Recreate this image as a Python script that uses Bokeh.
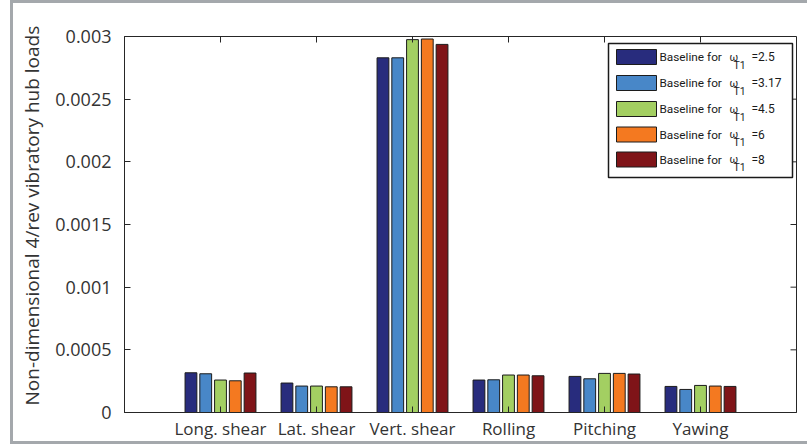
import numpy as np
from bokeh.plotting import figure
from bokeh.models import FixedTicker, Range1d, Title, ColumnDataSource
from bokeh.core.properties import value
from bokeh.embed import file_html
from bokeh.resources import INLINE

# ---- data -------------------------------------------------------------
categories = ["Long. shear", "Lat. shear", "Vert. shear", "Rolling", "Pitching", "Yawing"]
omega_labels = ["2.5", "3.17", "4.5", "6", "8"]
load_w25 = [0.000317, 0.000235, 0.002830, 0.000259, 0.000288, 0.000208]
load_w317 = [0.000309, 0.000211, 0.002830, 0.000261, 0.000269, 0.000184]
load_w45 = [0.000259, 0.000211, 0.002975, 0.000299, 0.000312, 0.000216]
load_w6 = [0.000253, 0.000205, 0.002980, 0.000299, 0.000312, 0.000211]
load_w8 = [0.000315, 0.000205, 0.002937, 0.000293, 0.000307, 0.000208]
y_ticks = [0, 0.0005, 0.001, 0.0015, 0.002, 0.0025, 0.003]
y_tick_labels = ["0", "0.0005", "0.001", "0.0015", "0.002", "0.0025", "0.003"]

series = [load_w25, load_w317, load_w45, load_w6, load_w8]
colors = ["#282c7d", "#4887c8", "#a3cf62", "#f47920", "#7f1418"]

# ---- layout -----------------------------------------------------------
W, H = 807, 446
X_MIN, X_MAX = 0, len(categories) + 1
Y_MIN, Y_MAX = 0, 0.003
# frame position inside the canvas (pixels)
FRAME_L, FRAME_R, FRAME_T, FRAME_B = 124, 796, 36, 412
TICK_PX = 6

FONT = "Open Sans"
INK = "#262626"
RULE = "#a4a8ac"

p = figure(
    width=W, height=H,
    x_range=Range1d(X_MIN, X_MAX), y_range=Range1d(Y_MIN, Y_MAX),
    output_backend="svg", toolbar_location=None,
    min_border_left=FRAME_L, min_border_right=W - FRAME_R,
    min_border_top=FRAME_T, min_border_bottom=H - FRAME_B,
)
# thin grey page rules (left, top, bottom) painted behind a transparent border area
p.border_fill_alpha = 0
p.styles = {
    "background": (
        f"linear-gradient({RULE},{RULE}) 10px 0px / 3px 444px no-repeat, "
        f"linear-gradient({RULE},{RULE}) 10px 0px / 797px 3px no-repeat, "
        f"linear-gradient({RULE},{RULE}) 10px 441px / 797px 3px no-repeat, "
        "white"
    )
}
p.grid.visible = False
p.outline_line_color = INK
p.outline_line_width = 1
p.background_fill_color = "white"


def fx(px):
    return X_MIN + (px - FRAME_L) / (FRAME_R - FRAME_L) * (X_MAX - X_MIN)


def fy(py):
    return Y_MIN + (FRAME_B - py) / (FRAME_B - FRAME_T) * (Y_MAX - Y_MIN)


dx_tick = fx(FRAME_L + TICK_PX) - fx(FRAME_L)
dy_tick = fy(FRAME_B - TICK_PX) - fy(FRAME_B)

# ---- grouped bars -----------------------------------------------------
centers = np.arange(1, len(categories) + 1, dtype=float)
n = len(series)
group_w = min(0.8, n / (n + 1.5))
pitch = group_w / n
bar_w = pitch * 0.8
for j, (vals, col) in enumerate(zip(series, colors)):
    src = ColumnDataSource(dict(x=centers + (j - (n - 1) / 2) * pitch, top=vals))
    p.vbar(x="x", top="top", width=bar_w, bottom=0, source=src,
           fill_color=col, line_color="#1c1c1c", line_width=1)

# ---- axes -------------------------------------------------------------
cat_ticks = [int(c) for c in centers]
xa = p.xaxis[0]
xa.ticker = FixedTicker(ticks=cat_ticks)
xa.major_label_overrides = {t: c for t, c in zip(cat_ticks, categories)}
ya = p.yaxis[0]
ya.ticker = FixedTicker(ticks=y_ticks)
ya.major_label_overrides = {t: s for t, s in zip(y_ticks, y_tick_labels)}

for ax in (xa, ya):
    ax.major_tick_in = TICK_PX
    ax.major_tick_out = 0
    ax.minor_tick_line_color = None
    ax.axis_line_color = INK
    ax.major_tick_line_color = INK
    ax.major_label_text_font = FONT
    ax.major_label_text_color = "#333333"
xa.major_label_text_font_size = "17px"
xa.major_label_standoff = 4
ya.major_label_text_font_size = "18px"
ya.major_label_standoff = 13

# mirrored inward ticks on the top and right edges of the box
p.segment(x0=[X_MAX] * len(y_ticks), x1=[X_MAX - dx_tick] * len(y_ticks),
          y0=y_ticks, y1=y_ticks, line_color=INK, line_width=1)
p.segment(x0=cat_ticks, x1=cat_ticks, y0=[Y_MAX] * len(cat_ticks),
          y1=[Y_MAX - dy_tick] * len(cat_ticks), line_color=INK, line_width=1)

p.add_layout(Title(text="Non-dimensional 4/rev vibratory hub loads", align="left",
                   text_font=FONT, text_font_size="19px", text_font_style="normal",
                   text_color="#333333", offset=7, standoff=15), "left")

# ---- legend, drawn in frame coordinates -------------------------------
p.quad(left=[fx(608)], right=[fx(792)], top=[fy(43)], bottom=[fy(177)],
       fill_color="white", line_color="#1a1a1a", line_width=1.5)

row_y = [56.5, 82.5, 108.5, 134, 159]
sw_half = 7.5
p.quad(left=[fx(616)] * n, right=[fx(656)] * n,
       top=[fy(r - sw_half) for r in row_y], bottom=[fy(r + sw_half) for r in row_y],
       fill_color=colors, line_color="#1c1c1c", line_width=1)

LEG_FONT = "Roboto"
p.text(x=[fx(659)] * n, y=[fy(r) for r in row_y], text=["Baseline for"] * n,
       text_font=value(LEG_FONT), text_font_size="11.8px", text_baseline="middle",
       text_color="#1a1a1a")
p.text(x=[fx(729)] * n, y=[fy(r) for r in row_y], text=["ω"] * n,
       text_font=value(LEG_FONT), text_font_size="10.5px", text_baseline="middle",
       text_color="#1a1a1a")
p.text(x=[fx(733)] * n, y=[fy(r + 8) for r in row_y], text=["T1"] * n,
       text_font=value(LEG_FONT), text_font_size="10.5px", text_baseline="middle",
       text_color="#1a1a1a")
p.text(x=[fx(751)] * n, y=[fy(r) for r in row_y], text=["=" + s for s in omega_labels],
       text_font=value(LEG_FONT), text_font_size="12px", text_baseline="middle",
       text_color="#1a1a1a")

open("out.html", "w").write(file_html(p, INLINE))
